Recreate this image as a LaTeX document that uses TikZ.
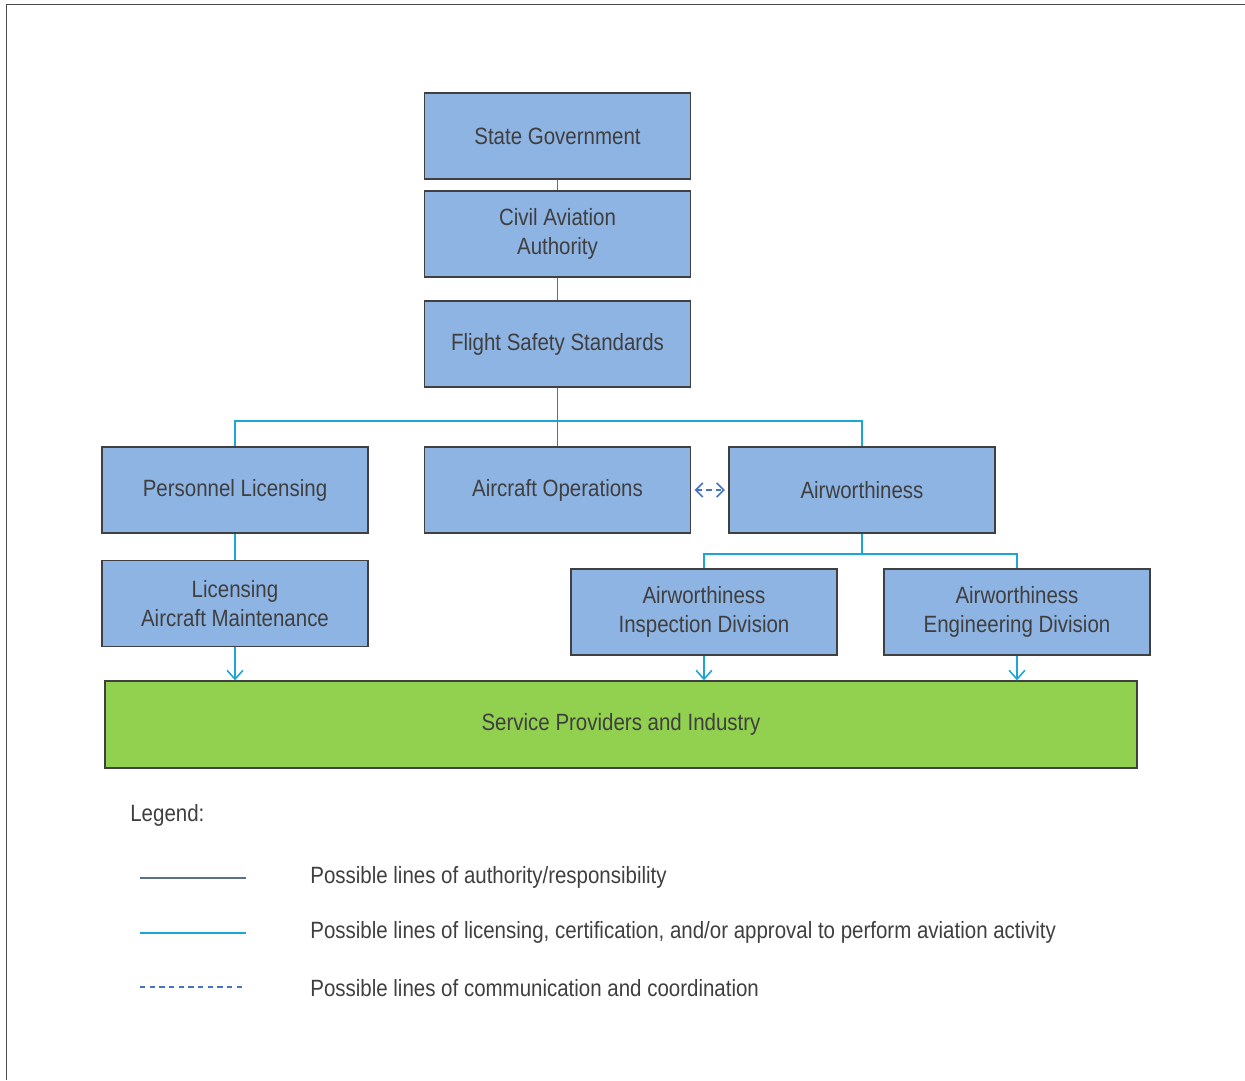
\documentclass[tikz,border=0pt]{standalone}
\usepackage{fontspec}
\setmainfont{Liberation Sans}[FakeStretch=0.87]
\usetikzlibrary{arrows.meta}

\definecolor{boxblue}{HTML}{8EB4E3}
\definecolor{boxgreen}{HTML}{92D050}
\definecolor{linecyan}{HTML}{1BA6D3}
\definecolor{linegray}{HTML}{5A6F8C}
\definecolor{dashblue}{HTML}{4472C4}
\definecolor{textgray}{HTML}{3F3F3F}

\tikzset{
  unit/.style={draw=black!75, line width=0.8pt, fill=boxblue, text=textgray,
    minimum width=5.32cm, minimum height=1.72cm, inner sep=0pt, align=center,
    font=\fontsize{13.4}{16.5}\selectfont},
  industry/.style={unit, fill=boxgreen, minimum width=20.64cm, minimum height=1.74cm},
  legendtext/.style={anchor=west, text=textgray, inner sep=0pt,
    font=\fontsize{13.4}{16.5}\selectfont},
  authority/.style={draw=linegray, line width=0.8pt},
  licensing/.style={draw=linecyan, line width=0.8pt},
  licarrow/.style={licensing, -{Straight Barb[length=5pt,width=9pt,line width=0.9pt]}},
  commline/.style={draw=dashblue, line width=0.8pt, dash pattern=on 3pt off 2.5pt},
  commarrow/.style={commline, {Straight Barb[length=4pt,width=8pt,line width=0.9pt]}-{Straight Barb[length=4pt,width=8pt,line width=0.9pt]}}
}

\begin{document}
\begin{tikzpicture}[x=0.02cm,y=-0.02cm]
    \useasboundingbox (0,0) rectangle (1245,1080);
    \draw[color=black!70, line width=1.1pt] (1245,4.5) -- (6.5,4.5) -- (6.5,1080);

    \node[unit] (sg)  at (557.5,136) {State Government};
    \node[unit] (caa) at (557.5,234) {Civil Aviation\\Authority};
    \node[unit] (fss) at (557.5,344) {Flight Safety Standards};
    \node[unit] (pl)  at (235,490) {Personnel Licensing};
    \node[unit] (ao)  at (557.5,490) {Aircraft Operations};
    \node[unit] (aw)  at (862,490) {Airworthiness};
    \node[unit] (lam) at (235,603.5) {Licensing\\Aircraft Maintenance};
    \node[unit] (aid) at (704,612) {Airworthiness\\Inspection Division};
    \node[unit] (aed) at (1017,612) {Airworthiness\\Engineering Division};
    \node[industry] (spi) at (621,724.5) {Service Providers and Industry};

    \draw[authority] (sg) -- (caa);
    \draw[authority] (caa) -- (fss);
    \draw[authority] (fss) -- (ao);
    \coordinate (split) at (557.5,421);
    \draw[licensing] (pl.north) |- (split) -| (aw.north);
    \draw[licensing] (pl) -- (lam);
    \coordinate (awsplit) at (862,554);
    \draw[licensing] (aw.south) -- (awsplit);
    \draw[licensing] (aid.north) |- (awsplit) -| (aed.north);
    \draw[commarrow] ([xshift=2pt]ao.east) -- ([xshift=-2pt]aw.west);

    \draw[licarrow] (lam.south) -- (lam.south |- spi.north);
    \draw[licarrow] (aid.south) -- (aid.south |- spi.north);
    \draw[licarrow] (aed.south) -- (aed.south |- spi.north);

    % legend
    \node[legendtext] (leg) at (130,815) {Legend:};
    \draw[authority] (140,878) -- (246,878);
    \draw[licensing] (140,933) -- (246,933);
    \draw[commline]  (140,987) -- (246,987);
    \node[legendtext] (la) at (310,877) {Possible lines of authority/responsibility};
    \node[legendtext] (lb) at (310,932) {Possible lines of licensing, certification, and/or approval to perform aviation activity};
    \node[legendtext] (lc) at (310,988) {Possible lines of communication and coordination};
\end{tikzpicture}
\end{document}
